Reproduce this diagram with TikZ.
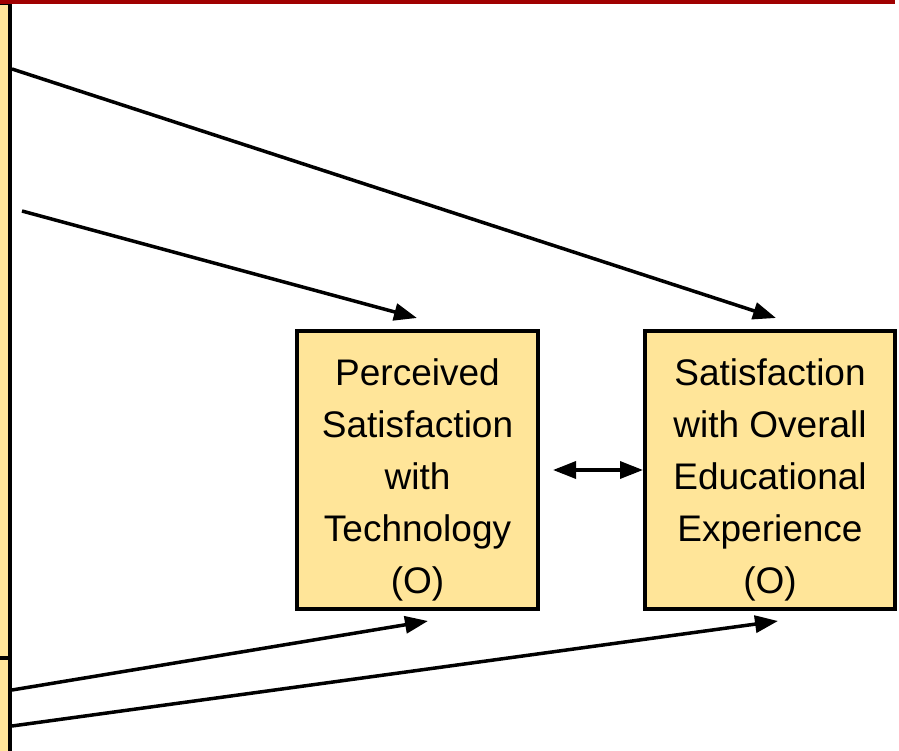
\documentclass[tikz,border=0pt]{standalone}
\usepackage{fontspec}
\setmainfont{Liberation Sans}
\usetikzlibrary{arrows.meta}
\definecolor{boxfill}{HTML}{FFE599}
\definecolor{barred}{HTML}{A00000}
\begin{document}
\begin{tikzpicture}[x=1pt,y=-1pt,
  box/.style={draw=black,line width=4pt,fill=boxfill,minimum height=278pt,inner sep=0pt},
  sidebox/.style={draw=black,line width=4pt,fill=boxfill,inner sep=0pt,minimum width=40pt},
  boxtext/.style={align=center,font=\fontsize{37}{52}\selectfont,inner sep=0pt},
  conn/.style={line width=3.5pt,-{Triangle[length=23pt,width=17pt]}},
  biconn/.style={line width=3.5pt,{Triangle[length=23pt,width=17pt]}-{Triangle[length=23pt,width=17pt]}}]
\useasboundingbox (0,0) rectangle (899,751);
% partial boxes at the left edge
\node[sidebox,minimum height=655pt] (leftA) at (-10,330.5) {};
\node[sidebox,minimum height=142pt] (leftB) at (-10,729) {};
% top bar
\fill[barred] (0,0) rectangle (895,4);
% main boxes
\node[box,minimum width=241pt] (pst) at (417.5,470) {};
\node[boxtext] (psttext) at ([yshift=-10pt]pst.center) {Perceived\\Satisfaction\\with\\Technology\\(O)};
\node[box,minimum width=250pt] (soee) at (770,470) {};
\node[boxtext] (soeetext) at ([yshift=-10pt]soee.center) {Satisfaction\\with Overall\\Educational\\Experience\\(O)};
% connector ends
\coordinate (s1) at (leftA.east |- 0,69);
\coordinate (s2) at (22,211);
\coordinate (s3) at (leftB.east |- 0,690);
\coordinate (s4) at (leftB.east |- 0,726);
\coordinate (e1) at (776,318);
\coordinate (e2) at (417,318);
\coordinate (e3) at (428,621);
\coordinate (e4) at (778,621);
\coordinate (b1) at (553,470);
% connectors
\draw[conn] (s1) -- (e1);
\draw[conn] (s2) -- (e2);
\draw[conn] (s3) -- (e3);
\draw[conn] (s4) -- (e4);
\draw[biconn] (b1) -- (soee.west);
\end{tikzpicture}
\end{document}
